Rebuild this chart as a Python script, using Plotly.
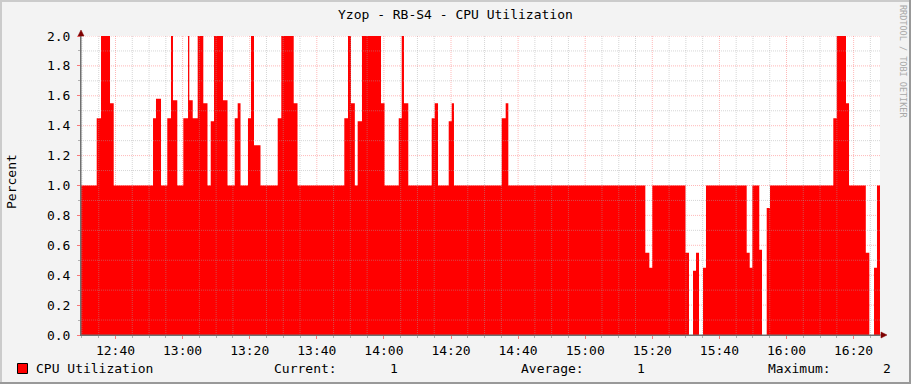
import plotly.graph_objects as go

# ---------------- data ----------------
DAY = "2024-01-01"
start_time = "12:29:43"
end_time = "16:27:52"

change_times = [
    "12:29:43", "12:34:24", "12:35:41", "12:38:22", "12:39:28",
    "12:51:11", "12:52:04", "12:53:34",
    "12:55:26", "12:56:32", "12:57:08", "12:58:25",
    "13:00:13", "13:01:37", "13:02:00", "13:03:01", "13:04:30", "13:06:10", "13:07:25",
    "13:08:23", "13:09:22", "13:12:02", "13:13:23",
    "13:15:32", "13:16:25", "13:17:16",
    "13:19:29", "13:20:23", "13:21:17", "13:23:13",
    "13:28:21", "13:29:25", "13:33:07", "13:34:15",
    "13:48:12", "13:49:18", "13:50:11", "13:51:20",
    "13:52:11", "13:53:28", "13:59:08", "14:00:11",
    "14:04:25", "14:05:19", "14:05:59", "14:07:16",
    "14:14:15", "14:15:08", "14:16:08",
    "14:19:19", "14:20:13", "14:20:53",
    "14:35:07", "14:36:18", "14:37:05",
    "15:17:55", "15:19:07", "15:20:00",
    "15:29:54", "15:30:56", "15:32:08", "15:33:02", "15:33:55", "15:35:07", "15:36:00",
    "15:48:08", "15:49:02", "15:49:49",
    "15:51:53", "15:52:42", "15:54:06", "15:55:05",
    "16:13:57", "16:14:58", "16:17:44", "16:18:38",
    "16:23:38", "16:24:41", "16:26:05", "16:26:58",
]
cpu_values = [
    1.0, 1.45, 2.0, 1.55, 1.0,
    1.45, 1.58, 1.0,
    1.45, 2.0, 1.57, 1.0,
    1.45, 2.0, 1.57, 1.45, 2.0, 1.55, 1.0,
    1.43, 2.0, 1.57, 1.0,
    1.45, 1.55, 1.0,
    1.45, 2.0, 1.27, 1.0,
    1.45, 2.0, 1.55, 1.0,
    1.45, 2.0, 1.55, 1.0,
    1.43, 2.0, 1.55, 1.0,
    1.45, 2.0, 1.55, 1.0,
    1.45, 1.55, 1.0,
    1.43, 1.55, 1.0,
    1.45, 1.55, 1.0,
    0.55, 0.45, 1.0,
    0.55, 0.0, 0.43, 0.55, 0.0, 0.45, 1.0,
    0.55, 0.45, 1.0,
    0.57, 0.0, 0.85, 1.0,
    1.45, 2.0, 1.55, 1.0,
    0.55, 0.0, 0.45, 1.0,
]

title_text = "Yzop - RB-S4 - CPU Utilization"
series_name = "CPU Utilization"
y_label = "Percent"
watermark = "RRDTOOL / TOBI OETIKER"

# ---------------- derived ----------------
xs = [f"{DAY} {t}" for t in change_times] + [f"{DAY} {end_time}"]
ys = cpu_values + [cpu_values[-1]]


def to_sec(t):
    h, m, s = (int(v) for v in t.split(":"))
    return h * 3600 + m * 60 + s


secs = [to_sec(t) for t in change_times] + [to_sec(end_time)]
total = secs[-1] - secs[0]
average = sum(v * (secs[i + 1] - secs[i]) for i, v in enumerate(cpu_values)) / total
current = cpu_values[-1]
maximum = max(cpu_values)

# ---------------- layout geometry (pixels) ----------------
W, H = 911, 384
L, R, T, B = 81, 880, 36, 335
PW, PH = R - L, B - T


def px(x):
    return (x - L) / PW


def py(y):
    return (B - y) / PH


MONO = "DejaVu Sans Mono"
RED = "#FF0000"
FS = 13

fig = go.Figure()
fig.add_trace(go.Scatter(
    x=xs, y=ys, mode="lines",
    line=dict(width=0, shape="hv", color=RED),
    fill="tozeroy", fillcolor=RED,
    hoverinfo="skip", showlegend=False,
))

major_grid = "rgba(255,0,0,0.28)"
minor_grid = "rgba(165,165,165,0.45)"
DOT = "1px,1px"

fig.update_layout(
    width=W, height=H,
    margin=dict(l=L, r=W - R, t=T, b=H - B, pad=0),
    paper_bgcolor="#F3F3F3",
    plot_bgcolor="#FFFFFF",
    showlegend=False,
    font=dict(family=MONO, size=FS, color="#000000"),
    xaxis=dict(
        type="date",
        range=[f"{DAY} {start_time}", f"{DAY} {end_time}"],
        tick0=f"{DAY} 12:40", dtick=20 * 60 * 1000,
        tickformat="%H:%M",
        showgrid=False,
        minor=dict(dtick=5 * 60 * 1000, showgrid=False,
                   ticks="outside", ticklen=2, tickcolor="#B0B0B0"),
        ticks="outside", ticklen=3, tickcolor="rgba(255,0,0,0.5)",
        showline=True, linecolor="#707070", linewidth=1,
        zeroline=False, fixedrange=True,
        tickfont=dict(family=MONO, size=FS, color="#000000"),
    ),
    yaxis=dict(
        range=[0, 2], dtick=0.2, tick0=0, tickformat=".1f",
        showgrid=False,
        minor=dict(dtick=0.1, showgrid=False,
                   ticks="outside", ticklen=2, tickcolor="#B0B0B0"),
        ticks="outside", ticklen=3, tickcolor="rgba(255,0,0,0.5)",
        ticklabelstandoff=4,
        showline=True, linecolor="#707070", linewidth=1,
        zeroline=False, fixedrange=True,
        tickfont=dict(family=MONO, size=FS, color="#000000"),
    ),
)

# grid drawn on top of the area, like rrdtool
grid_shapes = []
for k in range(0, 48):  # every 5 minutes from 12:30
    minutes = 12 * 60 + 30 + 5 * k
    if minutes > 16 * 60 + 27:
        break
    t = f"{DAY} {minutes // 60:02d}:{minutes % 60:02d}:00"
    is_major = (minutes - (12 * 60 + 40)) % 20 == 0
    grid_shapes.append(dict(
        type="line", xref="x", yref="paper", x0=t, x1=t, y0=0, y1=1,
        line=dict(color=major_grid if is_major else minor_grid, width=1, dash=DOT),
        layer="above"))
for k in range(1, 21):
    yv = k / 10
    is_major = k % 2 == 0
    grid_shapes.append(dict(
        type="line", xref="paper", yref="y", x0=0, x1=1, y0=yv, y1=yv,
        line=dict(color=major_grid if is_major else minor_grid, width=1, dash=DOT),
        layer="above"))
for s in grid_shapes:
    fig.add_shape(**s)

annotations = [
    dict(text=title_text, x=px(455.5), y=py(14), font=dict(family=MONO, size=13, color="#000000")),
    dict(text=y_label, x=px(11), y=py(182), textangle=-90, font=dict(family=MONO, size=FS, color="#000000")),
    dict(text=watermark, x=px(903), y=py(61), textangle=90, font=dict(family=MONO, size=8.5, color="#A8A8A8")),
    dict(text=series_name, x=px(34), y=py(368), xanchor="left"),
    dict(text="Current:", x=px(272), y=py(368), xanchor="left"),
    dict(text=f"{current:.0f}", x=px(400), y=py(368), xanchor="right"),
    dict(text="Average:", x=px(519), y=py(368), xanchor="left"),
    dict(text=f"{average:.0f}", x=px(647), y=py(368), xanchor="right"),
    dict(text="Maximum:", x=px(765.5), y=py(368), xanchor="left"),
    dict(text=f"{maximum:.0f}", x=px(893), y=py(368), xanchor="right"),
]
for a in annotations:
    a.setdefault("xanchor", "center")
    a.setdefault("yanchor", "middle")
    a.setdefault("font", dict(family=MONO, size=FS, color="#000000"))
    fig.add_annotation(xref="paper", yref="paper", showarrow=False, **a)

shapes = [
    # legend swatch
    dict(type="rect", x0=px(17.5), x1=px(27.5), y0=py(363.5), y1=py(373.5),
         fillcolor=RED, line=dict(color="#000000", width=1)),
    # frame shading
    dict(type="line", x0=px(0), x1=px(W), y0=py(1), y1=py(1), line=dict(color="#CBCBCB", width=2)),
    dict(type="line", x0=px(1), x1=px(1), y0=py(0), y1=py(H), line=dict(color="#CBCBCB", width=2)),
    dict(type="line", x0=px(910), x1=px(910), y0=py(0), y1=py(H), line=dict(color="#999999", width=2)),
    dict(type="line", x0=px(0), x1=px(W), y0=py(383), y1=py(383), line=dict(color="#999999", width=2)),
    # axis lines redrawn above grid, and arrows
    dict(type="line", x0=0, x1=px(882), y0=0, y1=0, line=dict(color="#707070", width=1)),
    dict(type="line", x0=0, x1=0, y0=0, y1=py(33), line=dict(color="#707070", width=1)),
    dict(type="path", xref="paper", yref="paper", xsizemode="pixel", ysizemode="pixel",
         xanchor=0, yanchor=1, path="M -3,0 L 3,0 L 0,6 Z",
         fillcolor="#7F0000", line=dict(color="#7F0000", width=0.5)),
    dict(type="path", xref="paper", yref="paper", xsizemode="pixel", ysizemode="pixel",
         xanchor=1, yanchor=0, path="M 1,-3 L 1,3 L 7,0 Z",
         fillcolor="#7F0000", line=dict(color="#7F0000", width=0.5)),
]
for s in shapes:
    s.setdefault("xref", "paper")
    s.setdefault("yref", "paper")
    s.setdefault("layer", "above")
    fig.add_shape(**s)

fig.write_html("out.html")
